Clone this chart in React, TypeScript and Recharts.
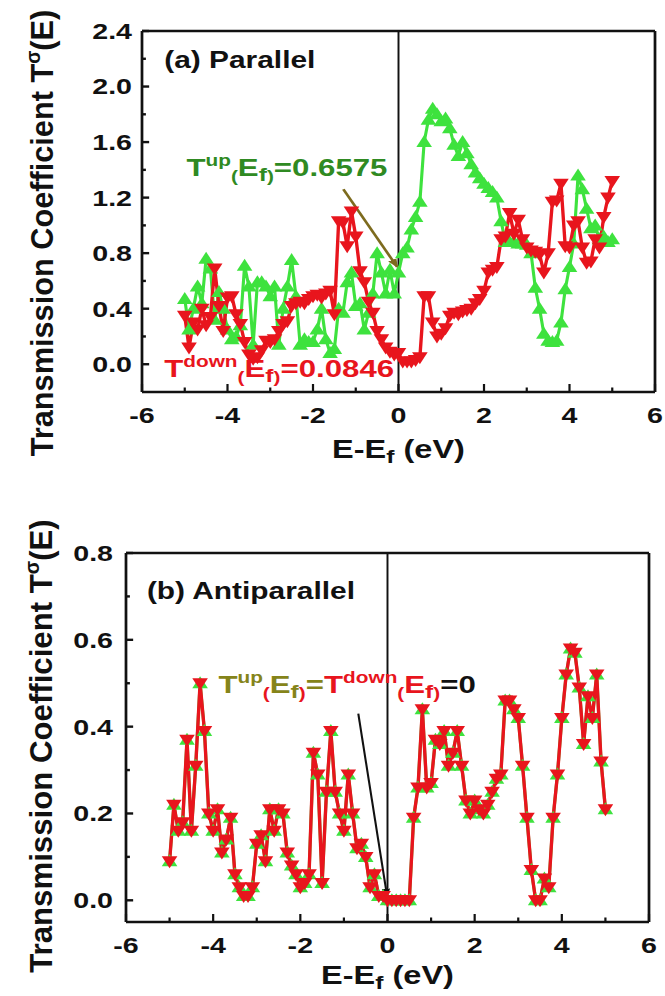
import React from 'react'
import { LineChart, Line, XAxis, YAxis, ReferenceLine, ReferenceDot } from 'recharts'

// energy grid, eV (E - Ef)
const energy = [
  -5.0, -4.9, -4.8, -4.7, -4.6, -4.5, -4.4, -4.3, -4.2, -4.1,
  -4.0, -3.9, -3.8, -3.7, -3.6, -3.5, -3.4, -3.3, -3.2, -3.1,
  -3.0, -2.9, -2.8, -2.7, -2.6, -2.5, -2.4, -2.3, -2.2, -2.1,
  -2.0, -1.9, -1.8, -1.7, -1.6, -1.5, -1.4, -1.3, -1.2, -1.1,
  -1.0, -0.9, -0.8, -0.7, -0.6, -0.5, -0.4, -0.3, -0.2, -0.1,
  0.0,
  0.1, 0.2, 0.3, 0.4, 0.5, 0.6, 0.7, 0.8, 0.9, 1.0,
  1.1, 1.2, 1.3, 1.4, 1.5, 1.6, 1.7, 1.8, 1.9, 2.0,
  2.1, 2.2, 2.3, 2.4, 2.5, 2.6, 2.7, 2.8, 2.9, 3.0,
  3.1, 3.2, 3.3, 3.4, 3.5, 3.6, 3.7, 3.8, 3.9, 4.0,
  4.1, 4.2, 4.3, 4.4, 4.5, 4.6, 4.7, 4.8, 4.9, 5.0,
]

// (a) parallel, spin up
const parallelUp = [
  0.47, 0.25, 0.40, 0.56, 0.44, 0.76, 0.69, 0.32, 0.52, 0.40,
  0.25, 0.18, 0.20, 0.28, 0.71, 0.56, 0.14, 0.59, 0.59, 0.56,
  0.49, 0.56, 0.14, 0.40, 0.56, 0.75, 0.49, 0.14, 0.18, 0.16,
  0.16, 0.25, 0.40, 0.18, 0.08, 0.11, 0.40, 0.37, 0.59, 0.66,
  0.42, 0.44, 0.25, 0.37, 0.51, 0.80, 0.66, 0.51, 0.68, 0.51,
  0.66,
  0.80, 0.84, 0.97, 1.06, 1.17, 1.60, 1.76, 1.84, 1.80, 1.75,
  1.77, 1.70, 1.58, 1.50, 1.60, 1.52, 1.44, 1.38, 1.34, 1.30,
  1.27, 1.24, 1.20, 1.03, 0.88, 0.88, 0.88, 0.87, 0.87, 0.86,
  0.80, 0.55, 0.40, 0.22, 0.17, 0.16, 0.17, 0.30, 0.54, 0.70,
  0.87, 1.36, 1.26, 1.12, 0.98, 1.00, 0.90, 0.92, 0.88, 0.90,
]

// (a) parallel, spin down
const parallelDown = [
  0.35, 0.12, 0.30, 0.25, 0.40, 0.28, 0.34, 0.69, 0.42, 0.24,
  0.48, 0.49, 0.36, 0.29, 0.16, 0.07, 0.04, 0.05, 0.10, 0.17,
  0.16, 0.18, 0.24, 0.29, 0.31, 0.42, 0.44, 0.45, 0.44, 0.47,
  0.49, 0.50, 0.48, 0.51, 0.53, 0.36, 1.03, 1.02, 0.85, 1.10,
  0.92, 0.67, 0.59, 0.45, 0.37, 0.24, 0.18, 0.12, 0.09, 0.07,
  0.08,
  0.02, 0.02, 0.02, 0.03, 0.05, 0.49, 0.49, 0.30, 0.20, 0.22,
  0.26, 0.35, 0.37, 0.36, 0.38, 0.39, 0.40, 0.44, 0.47, 0.53,
  0.66, 0.68, 0.70, 0.90, 0.92, 1.09, 0.94, 1.04, 0.90, 0.84,
  0.82, 0.81, 0.79, 0.66, 0.80, 1.17, 1.18, 1.30, 0.85, 0.84,
  1.00, 1.03, 0.84, 0.73, 0.74, 0.90, 0.84, 1.06, 1.20, 1.32,
]

// (b) antiparallel, up and down coincide
const antiparallel = [
  0.09, 0.22, 0.16, 0.18, 0.37, 0.16, 0.31, 0.50, 0.39, 0.20,
  0.16, 0.21, 0.11, 0.14, 0.19, 0.06, 0.03, 0.01, 0.01, 0.03,
  0.13, 0.15, 0.09, 0.21, 0.16, 0.21, 0.20, 0.11, 0.08, 0.06,
  0.03, 0.04, 0.06, 0.34, 0.29, 0.04, 0.25, 0.39, 0.25, 0.20,
  0.16, 0.29, 0.20, 0.12, 0.13, 0.10, 0.03, 0.06, 0.01, 0.01,
  0.0,
  0.0, 0.0, 0.0, 0.0, 0.0, 0.19, 0.26, 0.44, 0.26, 0.27,
  0.37, 0.36, 0.39, 0.31, 0.34, 0.39, 0.31, 0.23, 0.20, 0.23,
  0.21, 0.20, 0.22, 0.25, 0.28, 0.29, 0.46, 0.46, 0.44, 0.42,
  0.31, 0.19, 0.07, 0.0, 0.0, 0.05, 0.03, 0.19, 0.29, 0.42,
  0.52, 0.58, 0.57, 0.49, 0.36, 0.47, 0.42, 0.52, 0.32, 0.21,
]

const xTicks = [-6, -5, -4, -3, -2, -1, 0, 1, 2, 3, 4, 5, 6]
const xLabels = [-6, -4, -2, 0, 2, 4, 6]
const yTicksA = [0, 0.2, 0.4, 0.6, 0.8, 1.0, 1.2, 1.4, 1.6, 1.8, 2.0, 2.2, 2.4]
const yLabelsA = [0, 0.4, 0.8, 1.2, 1.6, 2.0, 2.4]
const yTicksB = [0, 0.1, 0.2, 0.3, 0.4, 0.5, 0.6, 0.7, 0.8]
const yLabelsB = [0, 0.2, 0.4, 0.6, 0.8]

// arrows pointing at Ef
const arrowA = [{ x: -1.29, y: 1.26 }, { x: -0.03, y: 0.7 }]
const arrowB = [{ x: -0.67, y: 0.43 }, { x: -0.01, y: 0.01 }]

const FONT = "'Liberation Sans', Arial, Helvetica, sans-serif"
const GREEN = '#3ee23e'
const RED = '#e8151d'
const DARK_GREEN = '#2f8a22'
const OLIVE = '#85841a'
const ARROW_OLIVE = '#7d6b1e'
const INK = '#111'

const dataA = energy.map((e, i) => ({ e, up: parallelUp[i], down: parallelDown[i] }))
const dataB = energy.map((e, i) => ({ e, up: antiparallel[i], down: antiparallel[i] }))

const isIn = (list: number[], v: number) => list.some((t) => Math.abs(t - v) < 1e-6)

function BottomTick(props: any) {
  const { x, y, payload, labels } = props
  const major = isIn(labels, payload.value)
  return (
    <g>
      <line x1={x} x2={x} y1={y} y2={y - (major ? 8 : 4.5)} stroke={INK} strokeWidth={1.7} />
      {major && (
        <text x={x} y={y + 31} textAnchor="middle" fontFamily={FONT} fontWeight="bold" fontSize={22} fill={INK}>
          {payload.value}
        </text>
      )}
    </g>
  )
}

function LeftTick(props: any) {
  const { x, y, payload, labels, gap } = props
  const major = isIn(labels, payload.value)
  return (
    <g>
      <line x1={x} x2={x + (major ? 5.5 : 3)} y1={y} y2={y} stroke={INK} strokeWidth={2.4} />
      {major && (
        <text x={x - gap} y={y} dy="0.36em" textAnchor="end" fontFamily={FONT} fontWeight="bold" fontSize={22} fill={INK}>
          {payload.value.toFixed(1)}
        </text>
      )}
    </g>
  )
}

function TriUp(props: any) {
  const { cx, cy, color } = props
  if (cx == null || cy == null) return null
  return <path d={`M${cx},${cy - 7}L${cx + 6},${cy + 5}L${cx - 6},${cy + 5}Z`} fill={color} />
}

function TriDown(props: any) {
  const { cx, cy, color } = props
  if (cx == null || cy == null) return null
  return <path d={`M${cx},${cy + 7}L${cx + 6},${cy - 5}L${cx - 6},${cy - 5}Z`} fill={color} />
}

function YTitle({ cx, cy, stretch }: any) {
  return (
    <text
      transform={`translate(${cx},${cy}) rotate(-90) scale(${stretch},1)`}
      y={8.5}
      textAnchor="middle"
      fontFamily={FONT}
      fontWeight="bold"
      fontSize={24}
      fill={INK}
    >
      Transmission Coefficient T<tspan fontSize={15} dy={-10}>σ</tspan>
      <tspan dy={10}>(E)</tspan>
    </text>
  )
}

function XTitle({ viewBox, drop }: any) {
  if (!viewBox) return null
  return (
    <text x={viewBox.x + viewBox.width / 2} y={viewBox.y + drop} textAnchor="middle" fontFamily={FONT} fontWeight="bold" fontSize={25} fill={INK}>
      E-E<tspan fontSize={19} dy={5}>f</tspan>
      <tspan dy={-5}> (eV)</tspan>
    </text>
  )
}

function PanelTitle({ viewBox, text }: any) {
  if (!viewBox) return null
  return (
    <text x={viewBox.x} y={viewBox.y} fontFamily={FONT} fontWeight="bold" fontSize={23} fill={INK}>
      {text}
    </text>
  )
}

// T^sigma(Ef) chunk: big T, superscript spin, small parens, subscript f
function EfTerm({ spin, color, parenColor }: any) {
  return (
    <>
      <tspan fill={color}>T</tspan>
      <tspan fill={color} fontSize={16} dy={-10}>{spin}</tspan>
      <tspan fill={parenColor || color} fontSize={16} dy={16}>(</tspan>
      <tspan fill={color} fontSize={24} dy={-6}>E</tspan>
      <tspan fill={color} fontSize={19} dy={5}>f</tspan>
      <tspan fill={parenColor || color} fontSize={16} dy={1}>)</tspan>
    </>
  )
}

function UpNote({ viewBox }: any) {
  if (!viewBox) return null
  return (
    <text x={viewBox.x} y={viewBox.y} fontFamily={FONT} fontWeight="bold" fontSize={24} fill={DARK_GREEN}>
      <EfTerm spin="up" color={DARK_GREEN} />
      <tspan fontSize={24} dy={-6}>=0.6575</tspan>
    </text>
  )
}

function DownNote({ viewBox }: any) {
  if (!viewBox) return null
  return (
    <text x={viewBox.x} y={viewBox.y} fontFamily={FONT} fontWeight="bold" fontSize={24} fill={RED}>
      <EfTerm spin="down" color={RED} />
      <tspan fontSize={24} dy={-6}>=0.0846</tspan>
    </text>
  )
}

function ZeroNote({ viewBox }: any) {
  if (!viewBox) return null
  return (
    <text x={viewBox.x} y={viewBox.y} fontFamily={FONT} fontWeight="bold" fontSize={24} fill={OLIVE}>
      <EfTerm spin="up" color={OLIVE} parenColor={RED} />
      <tspan fill={OLIVE} fontSize={24} dy={-6}>=</tspan>
      <EfTerm spin="down" color={RED} />
      <tspan fill={INK} fontSize={24} dy={-6}>=0</tspan>
    </text>
  )
}

const lineProps = { type: 'linear' as const, isAnimationActive: false, activeDot: false as const }

export default function App() {
  return (
    <div
      style={{
        position: 'absolute',
        left: 0,
        top: 0,
        width: 511.5,
        height: 996,
        background: '#fff',
        transform: 'scaleX(1.3)',
        transformOrigin: '0 0',
      }}
    >
      <svg width={0} height={0} style={{ position: 'absolute' }}>
        <defs>
          <marker id="headOlive" viewBox="0 0 10 8" refX="9" refY="4" markerWidth="9" markerHeight="8" markerUnits="userSpaceOnUse" orient="auto">
            <path d="M0,0L10,4L0,8Z" fill={ARROW_OLIVE} />
          </marker>
          <marker id="headBlack" viewBox="0 0 10 8" refX="9" refY="4" markerWidth="8" markerHeight="7" markerUnits="userSpaceOnUse" orient="auto">
            <path d="M0,0L10,4L0,8Z" fill={INK} />
          </marker>
        </defs>
      </svg>

      {/* (a) Parallel */}
      <LineChart width={511.5} height={480} data={dataA} margin={{ top: 31, right: 7.65, bottom: 28, left: 49.23 }}>
        <XAxis
          type="number"
          dataKey="e"
          domain={[-6, 6]}
          ticks={xTicks}
          interval={0}
          height={60}
          tickSize={0}
          tickMargin={0}
          tickLine={false}
          axisLine={{ stroke: INK, strokeWidth: 2.7 }}
          tick={<BottomTick labels={xLabels} />}
          label={<XTitle drop={66} />}
        />
        <YAxis
          type="number"
          domain={[-0.2, 2.4]}
          allowDataOverflow
          ticks={yTicksA}
          interval={0}
          width={60}
          tickSize={0}
          tickMargin={0}
          tickLine={false}
          axisLine={{ stroke: INK, strokeWidth: 2.1 }}
          tick={<LeftTick labels={yLabelsA} gap={7.7} />}
          label={<YTitle cx={32.3} cy={233} stretch={1.28} />}
        />
        <ReferenceLine y={2.4} stroke={INK} strokeWidth={2.7} />
        <ReferenceLine x={6} stroke={INK} strokeWidth={2.1} />
        <ReferenceLine x={0} stroke={INK} strokeWidth={1.5} />
        <Line {...lineProps} dataKey="up" stroke={GREEN} strokeWidth={2.4} dot={<TriUp color={GREEN} />} />
        <Line {...lineProps} dataKey="down" stroke={RED} strokeWidth={2.6} dot={<TriDown color={RED} />} />
        <ReferenceLine segment={arrowA} stroke={ARROW_OLIVE} strokeWidth={2.2} markerEnd="url(#headOlive)" ifOverflow="visible" />
        <ReferenceDot x={-5.48} y={2.13} r={0} fill="none" stroke="none" ifOverflow="visible" label={<PanelTitle text="(a) Parallel" />} />
        <ReferenceDot x={-4.96} y={1.353} r={0} fill="none" stroke="none" ifOverflow="visible" label={<UpNote />} />
        <ReferenceDot x={-5.48} y={-0.093} r={0} fill="none" stroke="none" ifOverflow="visible" label={<DownNote />} />
      </LineChart>

      {/* (b) Antiparallel */}
      <LineChart width={511.5} height={516} data={dataB} margin={{ top: 73, right: 12.27, bottom: 14, left: 36.92 }}>
        <XAxis
          type="number"
          dataKey="e"
          domain={[-6, 6]}
          ticks={xTicks}
          interval={0}
          height={60}
          tickSize={0}
          tickMargin={0}
          tickLine={false}
          axisLine={{ stroke: INK, strokeWidth: 2.7 }}
          tick={<BottomTick labels={xLabels} />}
          label={<XTitle drop={62} />}
        />
        <YAxis
          type="number"
          domain={[-0.05, 0.8]}
          allowDataOverflow
          ticks={yTicksB}
          interval={0}
          width={60}
          tickSize={0}
          tickMargin={0}
          tickLine={false}
          axisLine={{ stroke: INK, strokeWidth: 2.1 }}
          tick={<LeftTick labels={yLabelsB} gap={10} />}
          label={<YTitle cx={31.5} cy={266} stretch={1.3} />}
        />
        <ReferenceLine y={0.8} stroke={INK} strokeWidth={2.7} />
        <ReferenceLine x={6} stroke={INK} strokeWidth={2.1} />
        <ReferenceLine x={0} stroke={INK} strokeWidth={1.5} />
        <Line {...lineProps} dataKey="up" stroke={GREEN} strokeWidth={2.4} dot={<TriUp color={GREEN} />} />
        <Line {...lineProps} dataKey="down" stroke={RED} strokeWidth={2.6} dot={<TriDown color={RED} />} />
        <ReferenceLine segment={arrowB} stroke={INK} strokeWidth={1.6} markerEnd="url(#headBlack)" ifOverflow="visible" />
        <ReferenceDot x={-5.52} y={0.694} r={0} fill="none" stroke="none" ifOverflow="visible" label={<PanelTitle text="(b) Antiparallel" />} />
        <ReferenceDot x={-3.88} y={0.477} r={0} fill="none" stroke="none" ifOverflow="visible" label={<ZeroNote />} />
      </LineChart>
    </div>
  )
}
